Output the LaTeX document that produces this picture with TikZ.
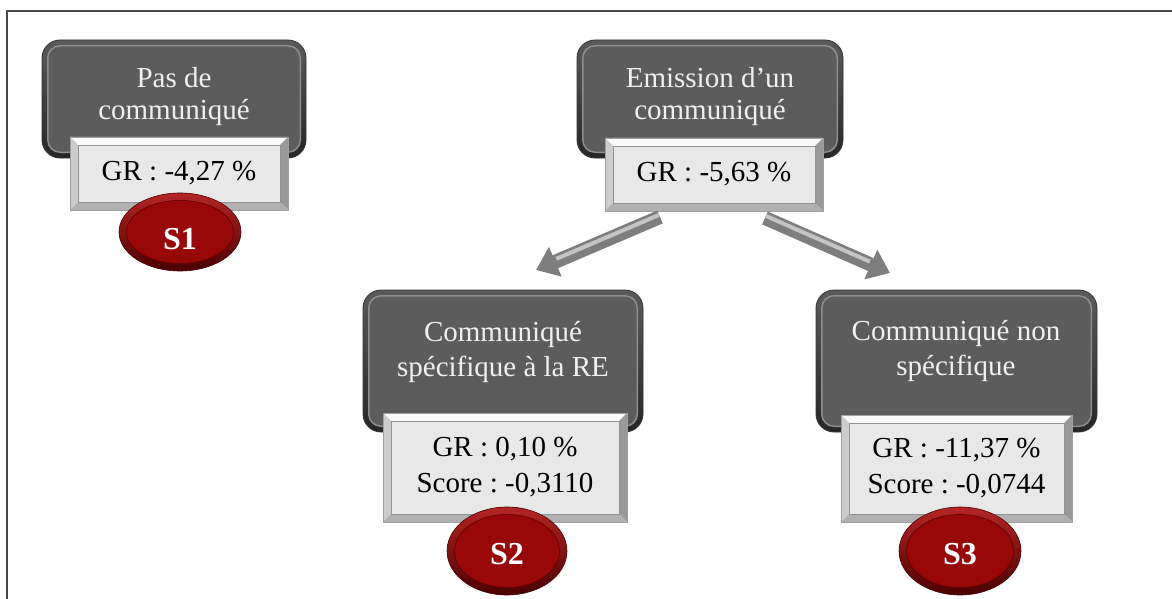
\documentclass[tikz,border=0pt]{standalone}
\usepackage{fontspec}
\setmainfont{Liberation Serif}
\frenchspacing
\usetikzlibrary{arrows.meta,shapes.geometric,calc}
\definecolor{darkfill}{HTML}{5C5C5C}
\definecolor{darktop}{HTML}{5A5A5A}
\definecolor{darkbot}{HTML}{262626}
\definecolor{darkhl}{HTML}{8E8E8E}
\definecolor{grfill}{HTML}{E8E8E8}
\definecolor{redfill}{HTML}{990808}
\definecolor{redtop}{HTML}{B52525}
\definecolor{redbot}{HTML}{4A0000}
\definecolor{redline}{HTML}{6A0000}
\definecolor{framecol}{HTML}{4A4A4A}
\definecolor{arrowcol}{HTML}{7E7E7E}
\definecolor{arrowhl}{HTML}{C4C4C4}
\tikzset{
  txt/.style={font=\fontsize{29}{32}\selectfont, align=center, inner sep=0pt},
  darkbox/.style={rectangle, rounded corners=18pt, top color=darktop, bottom color=darkbot,
    draw=black!80, line width=0.8pt, inner sep=0pt,
    path picture={
      \fill[darkhl, rounded corners=13pt]
        ([shift={(5pt,-5pt)}]path picture bounding box.north west) rectangle
        ([shift={(-5pt,5pt)}]path picture bounding box.south east);
      \fill[darkfill, rounded corners=12pt]
        ([shift={(6.5pt,-6.5pt)}]path picture bounding box.north west) rectangle
        ([shift={(-6.5pt,6.5pt)}]path picture bounding box.south east);
    }},
  darktext/.style={txt, text=white!94!black},
  grbox/.style={rectangle, fill=grfill, draw=gray!75, line width=0.6pt, txt, text=black,
    path picture={
      \path (path picture bounding box.north west) coordinate (pnw)
            (path picture bounding box.north east) coordinate (pne)
            (path picture bounding box.south west) coordinate (psw)
            (path picture bounding box.south east) coordinate (pse);
      \fill[white!96!gray] (pnw) -- (pne) -- ([shift={(-8pt,-8pt)}]pne) -- ([shift={(8pt,-8pt)}]pnw) -- cycle;
      \fill[gray!40] (pnw) -- ([shift={(8pt,-8pt)}]pnw) -- ([shift={(8pt,8pt)}]psw) -- (psw) -- cycle;
      \fill[gray!80] (pne) -- (pse) -- ([shift={(-8pt,8pt)}]pse) -- ([shift={(-8pt,-8pt)}]pne) -- cycle;
      \fill[gray!62] (psw) -- (pse) -- ([shift={(-8pt,8pt)}]pse) -- ([shift={(8pt,8pt)}]psw) -- cycle;
      \draw[gray!85, line width=0.6pt] ([shift={(8pt,-8pt)}]pnw) rectangle ([shift={(-8pt,8pt)}]pse);
    }},
  redell/.style 2 args={ellipse, inner sep=0pt, minimum width=#1, minimum height=#2,
    top color=redtop, bottom color=redbot, draw=redline!70!black, line width=0.6pt,
    font=\fontsize{32}{36}\selectfont\bfseries, text=white, text depth=0pt,
    path picture={
      \fill[redfill, draw=redline, line width=0.8pt] (path picture bounding box.center)
        ellipse [x radius={0.5*#1-7.5pt}, y radius={0.5*#2-7.5pt}];
    }},
  fatarrow/.style={line width=14pt, draw=arrowcol, -{Triangle[length=21pt,width=31pt]}},
  arrowshine/.style={line width=4pt, draw=arrowhl, shorten >=22pt, shorten <=1pt},
  framestyle/.style={draw=framecol, line width=1.6pt}
}
\begin{document}
\begin{tikzpicture}[x=1pt,y=-1pt]
\useasboundingbox (0,0) rectangle (1172,599);
% frame
\coordinate (fa) at (7,599);
\coordinate (fb) at (7,11);
\coordinate (fc) at (1172,11);
\draw[framestyle] (fa) -- (fb) -- (fc);

% S1 group
\node[darkbox, minimum width=264pt, minimum height=118pt] (d1) at (174,99) {};
\node[darktext] (t1) at (174,97) {Pas de\\communiqué};
\node[grbox, minimum width=218pt, minimum height=73pt] (g1) at (179,173.5) {GR : -4,27 \%};
\node[redell={122pt}{78pt}, text height=35pt] (s1) at (180,232) {S1};

% Emission group
\node[darkbox, minimum width=266pt, minimum height=118pt] (d0) at (710,99) {};
\node[darktext] (t0) at (710,97) {Emission d’un\\communiqué};
\node[grbox, minimum width=218pt, minimum height=73pt] (g0) at (714,174.5) {GR : -5,63 \%};

% S2 group
\node[darkbox, minimum width=280pt, minimum height=142pt] (d2) at (503,361) {};
\node[darktext, font=\fontsize{29}{35}\selectfont] (t2) at (503,352) {Communiqué\\spécifique à la RE};
\node[grbox, minimum width=244pt, minimum height=109pt, font=\fontsize{29}{36}\selectfont] (g2) at (505,467.5) {GR : 0,10 \%\\Score : -0,3110};
\node[redell={120pt}{88pt}, text height=27pt] (s2) at (507,551) {S2};

% S3 group
\node[darkbox, minimum width=281pt, minimum height=142pt] (d3) at (956.5,361) {};
\node[darktext, font=\fontsize{29}{35}\selectfont] (t3) at (956,351) {Communiqué non\\spécifique};
\node[grbox, minimum width=231pt, minimum height=107pt, font=\fontsize{29}{36}\selectfont] (g3) at (956.5,468.5) {GR : -11,37 \%\\Score : -0,0744};
\node[redell={122pt}{88pt}, text height=27pt] (s3) at (960,551) {S3};

% arrows
\coordinate (la) at (660,217);
\coordinate (lb) at (536,270);
\coordinate (ra) at (765,218);
\coordinate (rb) at (890,273);
\draw[fatarrow] (la) -- (lb);
\draw[arrowshine, transform canvas={shift={(0pt,2.5pt)}}] (la) -- (lb);
\draw[fatarrow] (ra) -- (rb);
\draw[arrowshine, transform canvas={shift={(0pt,2.5pt)}}] (ra) -- (rb);
\end{tikzpicture}
\end{document}
